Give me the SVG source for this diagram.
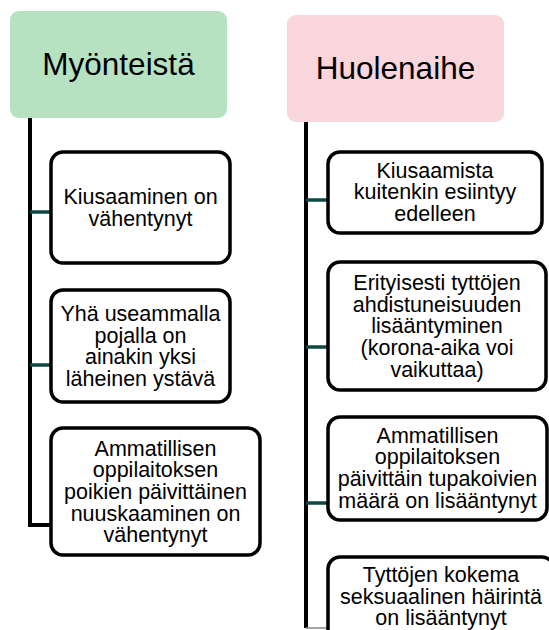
<svg xmlns="http://www.w3.org/2000/svg" width="549" height="630" viewBox="0 0 549 630">
<style>
.hdr{font-family:"Liberation Sans",Arial,sans-serif;font-size:31.5px;fill:#000;text-anchor:middle}
.t{font-family:"Liberation Sans",Arial,sans-serif;font-size:21.5px;fill:#000;text-anchor:middle}
.box{fill:#fff;stroke:#000;stroke-width:3.5}
.spine{stroke:#000;stroke-width:4;fill:none}
.conn{stroke:#0d4747;stroke-width:3.5;fill:none}
</style>
<rect width="549" height="630" fill="#fff"/>
<g id="connectors">
<path class="spine" d="M30 118 V525 H51"/>
<path class="conn" d="M30 212 H51 M30 365 H51"/>
<path class="spine" d="M306 122 V628"/>
<path class="conn" d="M306 200 H328 M306 347 H328 M306 503 H328"/>
<path d="M306 628 H334" stroke="#888" stroke-width="1.5"/>
</g>
<g id="h-myonteista">
<rect x="10" y="11" width="217" height="107" rx="9" fill="#b6e2c1"/>
<text class="hdr" x="118.5" y="74.5">Myönteistä</text>
</g>
<g id="h-huolenaihe">
<rect x="287" y="15" width="217" height="107" rx="9" fill="#f9d5dc"/>
<text class="hdr" x="395.5" y="78.5">Huolenaihe</text>
</g>
<g id="l1">
<rect class="box" x="51" y="152" width="179" height="111" rx="12"/>
<text class="t" x="140.5" y="204"><tspan x="140.5">Kiusaaminen on</tspan><tspan x="140.5" dy="21.7">vähentynyt</tspan></text>
</g>
<g id="l2">
<rect class="box" x="51" y="290" width="179" height="112" rx="12"/>
<text class="t" x="140.5" y="321"><tspan x="140.5">Yhä useammalla</tspan><tspan x="140.5" dy="21.7">pojalla on</tspan><tspan x="140.5" dy="21.7">ainakin yksi</tspan><tspan x="140.5" dy="21.7">läheinen ystävä</tspan></text>
</g>
<g id="l3">
<rect class="box" x="51" y="428" width="209" height="127" rx="12"/>
<text class="t" x="155.5" y="455.5"><tspan x="155.5">Ammatillisen</tspan><tspan x="155.5" dy="21.7">oppilaitoksen</tspan><tspan x="155.5" dy="21.7">poikien päivittäinen</tspan><tspan x="155.5" dy="21.7">nuuskaaminen on</tspan><tspan x="155.5" dy="21.7">vähentynyt</tspan></text>
</g>
<g id="r1">
<rect class="box" x="328" y="152" width="214" height="81" rx="12"/>
<text class="t" x="435" y="177.5"><tspan x="435">Kiusaamista</tspan><tspan x="435" dy="21.7">kuitenkin esiintyy</tspan><tspan x="435" dy="21.7">edelleen</tspan></text>
</g>
<g id="r2">
<rect class="box" x="328" y="262" width="218" height="128" rx="12"/>
<text class="t" x="437" y="290"><tspan x="437">Erityisesti tyttöjen</tspan><tspan x="437" dy="21.7">ahdistuneisuuden</tspan><tspan x="437" dy="21.7">lisääntyminen</tspan><tspan x="437" dy="21.7">(korona-aika voi</tspan><tspan x="437" dy="21.7">vaikuttaa)</tspan></text>
</g>
<g id="r3">
<rect class="box" x="328" y="417" width="219" height="103" rx="12"/>
<text class="t" x="437.5" y="442.5"><tspan x="437.5">Ammatillisen</tspan><tspan x="437.5" dy="21.7">oppilaitoksen</tspan><tspan x="437.5" dy="21.7">päivittäin tupakoivien</tspan><tspan x="437.5" dy="21.7">määrä on lisääntynyt</tspan></text>
</g>
<g id="r4">
<rect class="box" x="328" y="557" width="226" height="90" rx="12"/>
<text class="t" x="441" y="582"><tspan x="441">Tyttöjen kokema</tspan><tspan x="441" dy="21.7">seksuaalinen häirintä</tspan><tspan x="441" dy="21.7">on lisääntynyt</tspan></text>
</g>
</svg>
